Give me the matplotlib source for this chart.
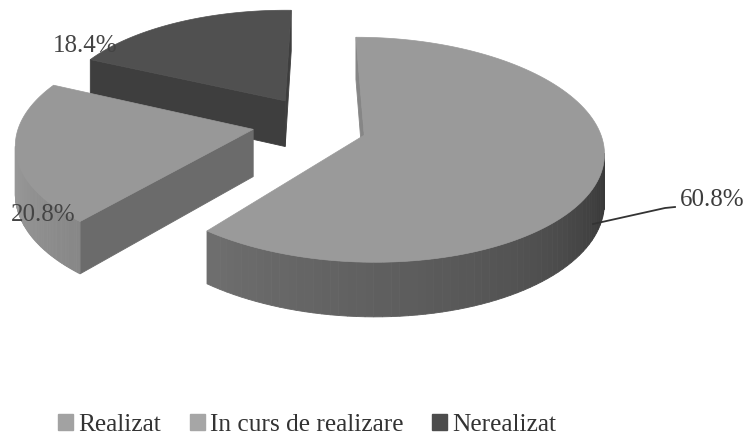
import numpy as np
import matplotlib
matplotlib.use("Agg")
import matplotlib.pyplot as plt
from matplotlib.patches import Patch

categories = ["Realizat", "In curs de realizare", "Nerealizat"]
values = [60.8, 20.8, 18.4]
labels = ["60.8%", "20.8%", "18.4%"]
top_colors = ["#9a9a9a", "#989898", "#505050"]
legend_colors = ["#a2a2a2", "#a6a6a6", "#4c4c4c"]

# how far each slice is pulled out, in disc units (u, v)
offsets = [(0.305, -0.093), (-0.165, -0.04), (-0.03, 0.23)]
# small rotation of each slice, the scan is not a clean projection
nudge = [0, -1.5, -1.5]
wall_base = [0.62, 0.80, 0.78]
wall_slope = [0.25, 0.20, 0.0]

# camera settings, tuned by eye
cx, cy = 292, 125
rad_x, rad_y = 234, 108
persp = 0.128
depth = 47
start_angle = 90


def project(u, v):
    d = 1 + persp * v
    return cx + rad_x * u / d, cy - rad_y * v / d, depth / d


def shade(color, f):
    rgb = np.array(matplotlib.colors.to_rgb(color))
    return tuple(np.clip(rgb * f, 0, 1))


fig = plt.figure(figsize=(7.47, 4.41), dpi=100)
ax = fig.add_axes([0, 0, 1, 1])
ax.set_xlim(0, 747)
ax.set_ylim(441, 0)
ax.axis("off")

# angles go clockwise from the top
starts = start_angle - np.cumsum([0] + values[:-1]) * 3.6
ends = start_angle - np.cumsum(values) * 3.6

# back slices first
for i in [2, 1, 0]:
    ox, oy = offsets[i]
    th = np.radians(np.linspace(starts[i], ends[i], 120) + nudge[i])
    us = np.r_[ox, ox + np.cos(th), ox]
    vs = np.r_[oy, oy + np.sin(th), oy]
    xs, ys, ds = project(us, vs)

    # side walls, only those facing the viewer
    for j in range(len(xs) - 1):
        dx = xs[j + 1] - xs[j]
        dy = ys[j + 1] - ys[j]
        if dx >= 0:
            continue
        nx = dy / np.hypot(dx, dy)
        col = shade(top_colors[i], wall_base[i] - wall_slope[i] * nx)
        ax.fill([xs[j], xs[j + 1], xs[j + 1], xs[j]],
                [ys[j], ys[j + 1], ys[j + 1] + ds[j + 1], ys[j] + ds[j]],
                color=col, lw=0.6)

    ax.fill(xs, ys, color=top_colors[i], lw=0.5)

font = "Liberation Serif"
ax.text(680, 200, labels[0], fontsize=18, family=font, color="#3c3c3c", va="center")
ax.text(11, 215, labels[1], fontsize=18, family=font, color="#444444", va="center")
ax.text(53, 46, labels[2], fontsize=18, family=font, color="#444444", va="center")
ax.plot([593, 665, 675], [224, 208, 207], color="#333333", lw=1.3)

handles = [Patch(color=c) for c in legend_colors]
fig.legend(handles, categories, loc="lower left", bbox_to_anchor=(0.047, -0.04), ncol=3,
           frameon=False, prop={"family": font, "size": 18.3}, handlelength=0.58,
           handleheight=0.58, handletextpad=0.2, columnspacing=1.15, labelcolor="#333333")

fig.savefig("out.png", dpi=100)
